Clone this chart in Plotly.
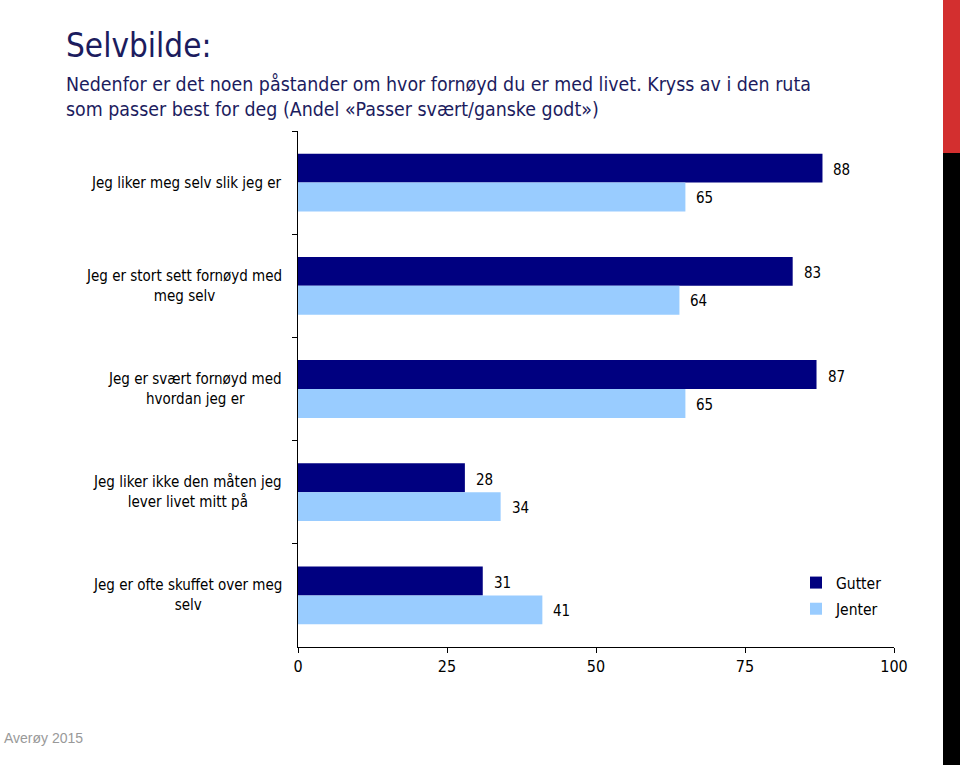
import plotly.graph_objects as go

categories = [
    "Jeg liker meg selv slik jeg er",
    "Jeg er stort sett fornøyd med<br>meg selv",
    "Jeg er svært fornøyd med<br>hvordan jeg er",
    "Jeg liker ikke den måten jeg<br>lever livet mitt på",
    "Jeg er ofte skuffet over meg<br>selv",
]
gutter = [88, 83, 87, 28, 31]
jenter = [65, 64, 65, 34, 41]
x_ticks = [0, 25, 50, 75, 100]

FONT = "DejaVu Sans Condensed"
NAVY = "#000080"
LIGHT = "#99CCFF"

fig = go.Figure()
fig.add_trace(go.Bar(y=categories, x=gutter, orientation="h", name="Gutter",
                     legendgroup="g", marker=dict(color=NAVY, line=dict(width=0))))
fig.add_trace(go.Bar(y=categories, x=jenter, orientation="h", name="Jenter",
                     legendgroup="j", marker=dict(color=LIGHT, line=dict(width=0))))

W, H = 960, 765
L, R, T, B = 298, 66, 131, 118
pw, ph = W - L - R, H - T - B

def px(xp):
    return (xp - L) / pw

def py(yp):
    return (H - B - yp) / ph

annotations = []
for i, c in enumerate(categories):
    annotations.append(dict(x=gutter[i], y=i, xref="x", yref="y", yshift=12.5,
                            text=str(gutter[i]), showarrow=False, xanchor="left",
                            xshift=9, font=dict(family=FONT, size=15, color="#000")))
    annotations.append(dict(x=jenter[i], y=i, xref="x", yref="y", yshift=-15.5,
                            text=str(jenter[i]), showarrow=False, xanchor="left",
                            xshift=9, font=dict(family=FONT, size=15, color="#000")))
    annotations.append(dict(x=px(284), y=i, xref="paper", yref="y", text=c,
                            showarrow=False, xanchor="right", align="center",
                            font=dict(family=FONT, size=15, color="#000")))

annotations.append(dict(x=px(64), y=py(46), xref="paper", yref="paper",
                        text="Selvbilde:", showarrow=False, xanchor="left", yanchor="middle",
                        font=dict(family=FONT, size=33, color="#1C1C5E")))
annotations.append(dict(x=px(64), y=py(97), xref="paper", yref="paper",
                        text="Nedenfor er det noen påstander om hvor fornøyd du er med livet. Kryss av i den ruta<br>som passer best for deg (Andel «Passer svært/ganske godt»)",
                        showarrow=False, xanchor="left", yanchor="middle", align="left",
                        font=dict(family=FONT, size=19.4, color="#1C1C5E")))
annotations.append(dict(x=px(2), y=py(738), xref="paper", yref="paper",
                        text="Averøy 2015", showarrow=False, xanchor="left", yanchor="middle",
                        font=dict(family="Liberation Sans", size=14, color="#999999")))

shapes = [
    dict(type="rect", xref="paper", yref="paper", x0=px(943), x1=px(962), y0=py(0), y1=py(153),
         fillcolor="#D32F2F", line=dict(width=0), layer="above"),
    dict(type="rect", xref="paper", yref="paper", x0=px(943), x1=px(962), y0=py(153), y1=py(766),
         fillcolor="#000000", line=dict(width=0), layer="above"),
]

fig.update_layout(
    width=W, height=H,
    margin=dict(l=L, r=R, t=T, b=B),
    paper_bgcolor="white", plot_bgcolor="white",
    barmode="group", bargap=0.44, bargroupgap=0,
    showlegend=True,
    legend=dict(x=px(796), y=py(566), xanchor="left", yanchor="top",
                font=dict(family=FONT, size=15.5, color="#000"),
                itemwidth=30, tracegroupgap=3, bgcolor="rgba(0,0,0,0)"),
    annotations=annotations,
    shapes=shapes,
    xaxis=dict(range=[0, 100], tickvals=x_ticks, ticktext=[str(v) for v in x_ticks],
               showgrid=False, zeroline=False, showline=True, linecolor="#000", linewidth=1,
               ticks="outside", ticklen=5, tickcolor="#000",
               tickfont=dict(family=FONT, size=16, color="#000")),
    yaxis=dict(autorange=False, range=[4.5, -0.5], showgrid=False, zeroline=False,
               showline=True, linecolor="#000", linewidth=1, showticklabels=False,
               ticks="outside", ticklen=5, tickcolor="#000", tickson="boundaries"),
    font=dict(family=FONT),
)

fig.write_html("out.html", config={"displayModeBar": False},
               post_script="document.body.style.margin='0';document.body.style.overflow='hidden';")
